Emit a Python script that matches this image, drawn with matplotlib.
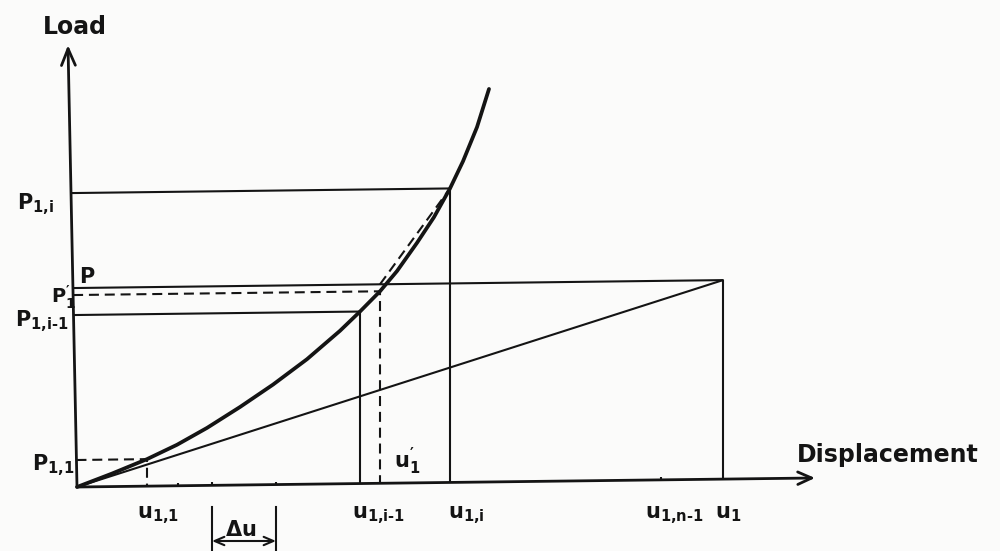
import matplotlib
matplotlib.use("Agg")
import matplotlib.pyplot as plt
from matplotlib.transforms import Affine2D

# Load-displacement curve of the member (displacement, load)
curve_u = [0, 35, 70, 100, 130, 163, 196, 230, 263, 283, 303, 320, 340, 357, 373, 386, 400, 412]
curve_p = [0, 13, 27, 41, 57.5, 78, 100, 125, 153, 172, 192, 212, 240, 265.5, 294, 321, 355, 393]

# Characteristic points
u_11, p_11 = 70, 27          # first step
u_prev, p_prev = 283, 172    # step i-1
u_prime, p_prime = 303, 192  # trial point
u_i, p_i = 373, 294          # step i
u_1, p_load = 646, 199       # target load / linear displacement
u_nm1 = 584                  # step n-1
tick_u = [101, 135, 199, 584]
du_left, du_right = 135, 199

y_axis_top = 442
y_axis_lean = -9             # the hand-drawn load axis leans slightly left
x_axis_end = 738

# displacement labels: (position, text, horizontal offset of the label)
u_labels = [(u_11, r"$u_{1{,}1}$", -10),
            (u_prev, r"$u_{1{,}i\text{-}1}$", -8),
            (u_i, r"$u_{1{,}i}$", -2),
            (u_nm1, r"$u_{1{,}n\text{-}1}$", -16),
            (u_1, r"$u_1$", -8)]

plt.rcParams["font.family"] = ["DejaVu Sans"]
plt.rcParams["font.weight"] = "bold"
plt.rcParams["mathtext.fontset"] = "custom"
plt.rcParams["mathtext.rm"] = "DejaVu Sans:bold"
plt.rcParams["mathtext.it"] = "DejaVu Sans:bold"
plt.rcParams["mathtext.bf"] = "DejaVu Sans:bold"
plt.rcParams["mathtext.default"] = "bf"

ink = "#141414"
fig = plt.figure(figsize=(10, 5.51), dpi=100, facecolor="#fbfbfa")
ax = fig.add_axes([0, 0, 1, 1])
ax.set_xlim(-77, 923)
ax.set_ylim(-64, 487)
ax.axis("off")

# the sheet's horizontals rise slightly to the right
sk = Affine2D().skew_deg(0, 0.7) + ax.transData

thin = dict(color=ink, lw=1.5, transform=sk, solid_capstyle="butt")
dash = dict(color=ink, lw=1.5, transform=sk, linestyle=(0, (4.8, 2.8)))


def axis_x(p):
    """x position of the leaning load axis at height p"""
    return y_axis_lean * p / y_axis_top


# axes with open arrowheads
ax.annotate("", xy=(y_axis_lean, y_axis_top), xytext=(0, 0), xycoords=sk, textcoords=sk,
            arrowprops=dict(arrowstyle="->,head_length=1.2,head_width=0.5",
                            color=ink, lw=2.0, shrinkA=0, shrinkB=0))
ax.annotate("", xy=(x_axis_end, 0), xytext=(0, 0), xycoords=sk, textcoords=sk,
            arrowprops=dict(arrowstyle="->,head_length=1.0,head_width=0.45",
                            color=ink, lw=2.0, shrinkA=0, shrinkB=0))
for t in tick_u:
    ax.plot([t, t], [0, 3], **thin)

# secant to the target point
ax.plot([0, u_1], [0, p_load], **thin)

# load-displacement curve
ax.plot(curve_u, curve_p, color=ink, lw=2.7, transform=sk,
        solid_capstyle="round", solid_joinstyle="round")

# solid level / position lines
ax.plot([axis_x(p_i), u_i, u_i], [p_i, p_i, 0], **thin)
ax.plot([axis_x(p_load), u_1, u_1], [p_load, p_load, 0], **thin)
ax.plot([axis_x(p_prev), u_prev, u_prev], [p_prev, p_prev, 0], **thin)

# dashed construction lines
ax.plot([axis_x(p_11), u_11, u_11], [p_11, p_11, 0], **dash)
ax.plot([axis_x(p_prime), u_prime, u_prime], [p_prime, p_prime, 0], **dash)
ax.plot([u_prime, u_i], [p_load, p_i], **dash)

# increment dimension
ax.plot([du_left, du_left], [-20, -66], color=ink, lw=1.5)
ax.plot([du_right, du_right], [-20, -66], color=ink, lw=1.5)
ax.annotate("", xy=(du_left, -54), xytext=(du_right, -54),
            arrowprops=dict(arrowstyle="<->,head_length=0.7,head_width=0.3",
                            color=ink, lw=1.5, shrinkA=0, shrinkB=0))
fs = 15
ax.text(148, -33, r"$\Delta u$", ha="left", va="top", fontsize=fs, color=ink)

# axis titles
ax.text(-34, 472, "Load", ha="left", va="top", fontsize=17, color=ink)
ax.text(720, 44, "Displacement", ha="left", va="top", fontsize=17, color=ink)

# load labels
ax.text(-60, 295, r"$P_{1{,}i}$", ha="left", va="top", fontsize=fs, color=ink)
ax.text(2, 220, "P", ha="left", va="top", fontsize=fs, color=ink)
ax.text(-26, 203, r"$P^{′}_{1}$", ha="left", va="top", fontsize=14, color=ink)
ax.text(-62, 179, r"$P_{1{,}i\text{-}1}$", ha="left", va="top", fontsize=fs, color=ink)
ax.text(-45, 34, r"$P_{1{,}1}$", ha="left", va="top", fontsize=fs, color=ink)

# displacement labels
for u, lab, off in u_labels:
    ax.text(u + off, -17, lab, ha="left", va="top", fontsize=fs, color=ink)
ax.text(u_prime + 14, 41, r"$u^{′}_{1}$", ha="left", va="top", fontsize=fs, color=ink)

fig.savefig("out.png", dpi=100, facecolor=fig.get_facecolor())
